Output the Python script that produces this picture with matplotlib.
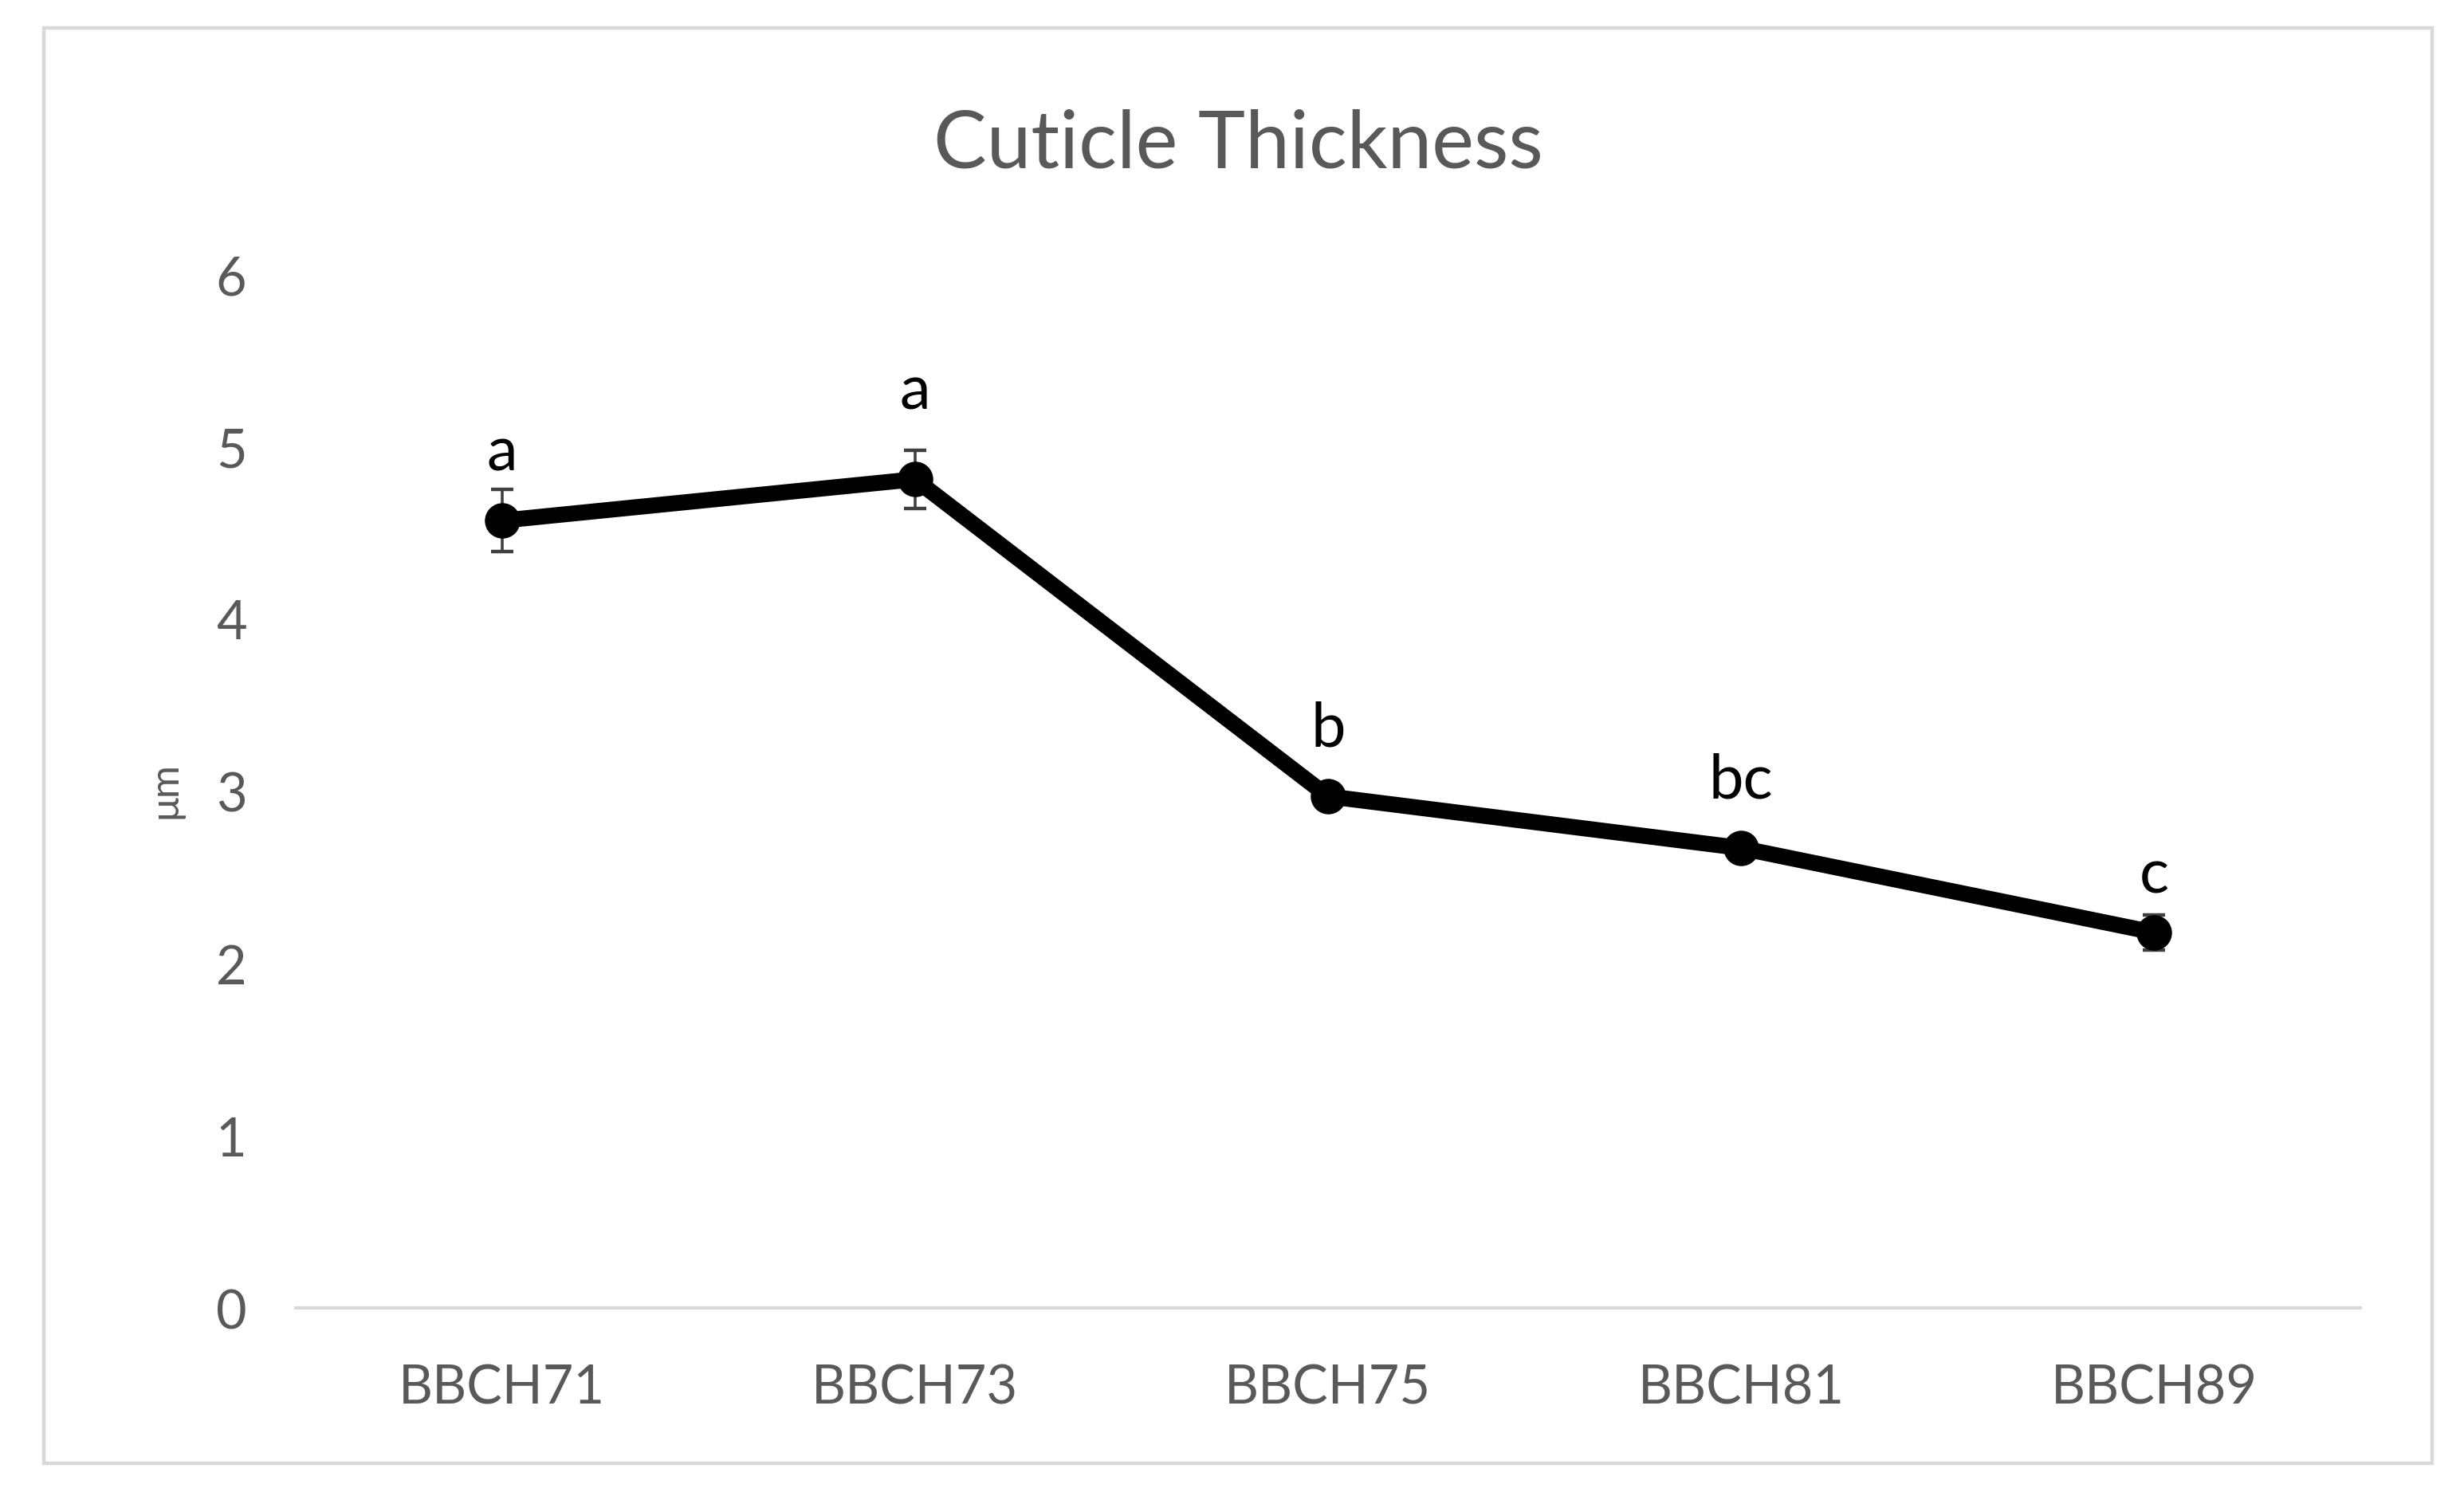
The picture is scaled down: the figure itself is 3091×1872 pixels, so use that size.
import numpy as np
import matplotlib
matplotlib.use('Agg')
from matplotlib import pyplot as plt
from matplotlib.patches import Rectangle

# cuticle thickness per growth stage
stages = ['BBCH71', 'BBCH73', 'BBCH75', 'BBCH81', 'BBCH89']
thickness = [4.57, 4.81, 2.97, 2.67, 2.18]
sem = [0.18, 0.17, 0.07, 0.06, 0.10]
letters = ['a', 'a', 'b', 'bc', 'c']

plt.rcParams['font.family'] = ['Lato', 'DejaVu Sans']

fig = plt.figure(figsize=(15.455, 9.3649), dpi=200)
ax = fig.add_axes([0.1199, 0.1232, 0.8381, 0.6926])

x = np.arange(len(stages))
ax.errorbar(x, thickness, yerr=sem, color='black', lw=7.2, marker='o', ms=15,
            ecolor='#404040', elinewidth=1.3, capsize=5, capthick=1.6, zorder=3)

# significance letters above each point
label_off = [23, 32, 23, 23, 18]
for xi, yi, lab, off in zip(x, thickness, letters, label_off):
    ax.annotate(lab, (xi, yi), xytext=(0, off), textcoords='offset points',
                ha='center', va='baseline', fontsize=28, color='black')

ax.set_xlim(-0.5, len(stages) - 0.5)
ax.set_ylim(0, 6)
ax.set_yticks(range(0, 7))
ax.set_xticks(x)
ax.set_xticklabels(stages)
for s in ['top', 'right', 'left']:
    ax.spines[s].set_visible(False)
ax.spines['bottom'].set_color('#d9d9d9')
ax.spines['bottom'].set_linewidth(1.5)
ax.tick_params(axis='both', length=0, labelsize=24, colors='#595959')
ax.tick_params(axis='y', pad=22)
ax.tick_params(axis='x', pad=25)

fig.text(0.067, 0.4705, 'μm', rotation=90, ha='center', va='center',
         fontsize=18, color='#595959')
fig.text(0.5026, 0.903, 'Cuticle Thickness', ha='center', va='center',
         fontsize=36, color='#595959')

# outer chart border
fig.patches.append(Rectangle((0.0179, 0.019), 0.9691, 0.962, transform=fig.transFigure,
                             fill=False, edgecolor='#d9d9d9', lw=1.6))

fig.savefig('out.png', dpi=200, facecolor='white')
